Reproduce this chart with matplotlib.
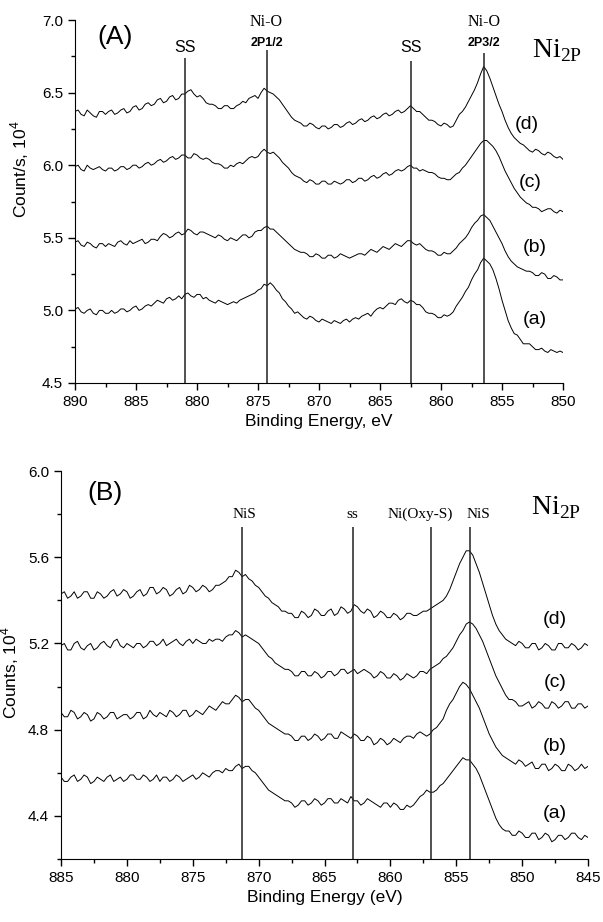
import numpy as np
import matplotlib
matplotlib.use('Agg')
from matplotlib import pyplot as plt
from matplotlib.ticker import MultipleLocator, FormatStrFormatter

plt.rcParams['font.family'] = ['Liberation Sans', 'DejaVu Sans']

# Ni 2p spectra, counts in units of 1e4, sampled every 0.25 eV
energy_A = np.arange(890.0, 849.99, -0.25)
energy_B = np.arange(885.0, 844.99, -0.25)

A_a = [5.01, 5.02, 4.99, 4.98, 5.00, 5.01, 4.98, 4.97, 5.00, 5.00,
       4.98, 4.98, 5.00, 4.98, 4.99, 5.01, 5.01, 4.99, 5.00, 5.02,
       5.03, 5.00, 5.01, 5.03, 5.04, 5.03, 5.05, 5.07, 5.06, 5.05,
       5.08, 5.09, 5.07, 5.08, 5.10, 5.08, 5.11, 5.12, 5.10, 5.09,
       5.11, 5.11, 5.08, 5.09, 5.07, 5.06, 5.05, 5.07, 5.06, 5.05,
       5.04, 5.05, 5.06, 5.05, 5.07, 5.08, 5.09, 5.10, 5.11, 5.12,
       5.14, 5.15, 5.18, 5.17, 5.19, 5.17, 5.14, 5.12, 5.08, 5.06,
       5.03, 5.01, 4.98, 4.99, 4.97, 4.95, 4.94, 4.96, 4.95, 4.93,
       4.92, 4.94, 4.93, 4.92, 4.91, 4.93, 4.92, 4.91, 4.93, 4.94,
       4.92, 4.94, 4.95, 4.94, 4.96, 4.97, 4.98, 4.96, 4.99, 5.01,
       5.02, 5.01, 5.03, 5.05, 5.05, 5.04, 5.07, 5.08, 5.06, 5.05,
       5.07, 5.06, 5.04, 5.04, 5.02, 4.99, 4.98, 4.98, 4.97, 4.95,
       4.95, 4.97, 4.96, 4.97, 4.99, 5.03, 5.06, 5.09, 5.13, 5.16,
       5.21, 5.25, 5.28, 5.33, 5.36, 5.34, 5.32, 5.28, 5.22, 5.15,
       5.07, 5.00, 4.93, 4.88, 4.84, 4.83, 4.80, 4.77, 4.77, 4.77,
       4.75, 4.73, 4.73, 4.74, 4.72, 4.71, 4.73, 4.72, 4.71, 4.72,
       4.71]
A_b = [5.47, 5.48, 5.45, 5.44, 5.47, 5.46, 5.44, 5.43, 5.46, 5.46,
       5.44, 5.46, 5.45, 5.44, 5.47, 5.48, 5.46, 5.45, 5.48, 5.46,
       5.47, 5.48, 5.49, 5.46, 5.47, 5.49, 5.49, 5.48, 5.51, 5.53,
       5.52, 5.50, 5.51, 5.53, 5.54, 5.52, 5.53, 5.56, 5.55, 5.53,
       5.52, 5.54, 5.54, 5.53, 5.52, 5.51, 5.50, 5.52, 5.51, 5.49,
       5.48, 5.50, 5.49, 5.48, 5.50, 5.52, 5.52, 5.50, 5.51, 5.54,
       5.55, 5.55, 5.57, 5.58, 5.56, 5.56, 5.54, 5.52, 5.50, 5.48,
       5.46, 5.44, 5.42, 5.41, 5.40, 5.40, 5.39, 5.37, 5.37, 5.39,
       5.38, 5.36, 5.36, 5.38, 5.38, 5.36, 5.37, 5.39, 5.38, 5.37,
       5.36, 5.37, 5.38, 5.39, 5.39, 5.38, 5.40, 5.42, 5.41, 5.40,
       5.42, 5.44, 5.43, 5.42, 5.44, 5.46, 5.45, 5.44, 5.46, 5.48,
       5.48, 5.46, 5.45, 5.46, 5.44, 5.42, 5.41, 5.41, 5.40, 5.38,
       5.38, 5.40, 5.39, 5.39, 5.41, 5.43, 5.46, 5.48, 5.50, 5.53,
       5.57, 5.60, 5.62, 5.65, 5.66, 5.64, 5.62, 5.58, 5.54, 5.50,
       5.46, 5.41, 5.37, 5.34, 5.32, 5.30, 5.29, 5.28, 5.27, 5.27,
       5.26, 5.24, 5.24, 5.26, 5.25, 5.22, 5.22, 5.24, 5.23, 5.21,
       5.21]
A_c = [5.99, 6.00, 5.97, 5.96, 6.00, 5.98, 5.97, 5.98, 5.99, 5.97,
       5.96, 5.98, 5.98, 5.96, 5.97, 5.99, 5.99, 5.97, 5.98, 6.00,
       6.00, 5.98, 5.99, 6.01, 6.02, 6.00, 6.01, 6.03, 6.04, 6.02,
       6.03, 6.05, 6.06, 6.04, 6.05, 6.07, 6.07, 6.05, 6.05, 6.08,
       6.07, 6.05, 6.04, 6.05, 6.04, 6.02, 6.01, 6.01, 6.00, 5.98,
       5.98, 6.00, 5.99, 6.01, 6.02, 6.01, 6.03, 6.05, 6.06, 6.05,
       6.06, 6.09, 6.11, 6.09, 6.08, 6.09, 6.07, 6.05, 6.02, 6.00,
       5.98, 5.95, 5.93, 5.92, 5.91, 5.89, 5.88, 5.90, 5.89, 5.87,
       5.87, 5.89, 5.89, 5.87, 5.87, 5.89, 5.88, 5.87, 5.88, 5.90,
       5.90, 5.88, 5.89, 5.91, 5.91, 5.89, 5.90, 5.92, 5.93, 5.91,
       5.92, 5.94, 5.95, 5.93, 5.94, 5.96, 5.97, 5.96, 5.97, 5.99,
       6.00, 5.98, 5.98, 5.96, 5.97, 5.96, 5.95, 5.95, 5.94, 5.92,
       5.91, 5.91, 5.90, 5.90, 5.92, 5.94, 5.95, 5.98, 6.00, 6.03,
       6.06, 6.09, 6.12, 6.15, 6.17, 6.17, 6.15, 6.13, 6.10, 6.06,
       6.01, 5.96, 5.92, 5.88, 5.84, 5.81, 5.78, 5.76, 5.74, 5.73,
       5.71, 5.71, 5.70, 5.68, 5.69, 5.70, 5.70, 5.68, 5.67, 5.69,
       5.68]
A_d = [6.37, 6.38, 6.35, 6.34, 6.38, 6.36, 6.34, 6.33, 6.37, 6.37,
       6.35, 6.37, 6.38, 6.35, 6.36, 6.38, 6.39, 6.36, 6.37, 6.40,
       6.41, 6.38, 6.39, 6.42, 6.43, 6.41, 6.42, 6.45, 6.46, 6.43,
       6.44, 6.47, 6.48, 6.45, 6.46, 6.49, 6.49, 6.51, 6.52, 6.49,
       6.47, 6.48, 6.46, 6.43, 6.42, 6.42, 6.41, 6.39, 6.39, 6.41,
       6.41, 6.39, 6.39, 6.41, 6.42, 6.44, 6.43, 6.46, 6.47, 6.48,
       6.46, 6.50, 6.53, 6.51, 6.50, 6.49, 6.47, 6.45, 6.42, 6.39,
       6.36, 6.33, 6.31, 6.30, 6.29, 6.27, 6.27, 6.29, 6.28, 6.26,
       6.25, 6.27, 6.27, 6.25, 6.26, 6.28, 6.28, 6.26, 6.27, 6.29,
       6.30, 6.28, 6.29, 6.31, 6.32, 6.30, 6.31, 6.33, 6.34, 6.32,
       6.33, 6.35, 6.36, 6.34, 6.35, 6.37, 6.38, 6.36, 6.37, 6.39,
       6.41, 6.39, 6.37, 6.37, 6.35, 6.33, 6.31, 6.31, 6.30, 6.28,
       6.27, 6.29, 6.28, 6.26, 6.27, 6.31, 6.35, 6.37, 6.40, 6.44,
       6.48, 6.52, 6.57, 6.63, 6.68, 6.65, 6.60, 6.54, 6.48, 6.42,
       6.37, 6.31, 6.26, 6.22, 6.19, 6.17, 6.15, 6.14, 6.12, 6.10,
       6.09, 6.11, 6.10, 6.08, 6.07, 6.09, 6.08, 6.06, 6.05, 6.06,
       6.04]

B_a = [4.58, 4.56, 4.56, 4.58, 4.59, 4.56, 4.57, 4.59, 4.58, 4.55,
       4.56, 4.58, 4.57, 4.56, 4.58, 4.59, 4.56, 4.57, 4.58, 4.56,
       4.57, 4.59, 4.59, 4.57, 4.57, 4.59, 4.58, 4.56, 4.57, 4.59,
       4.56, 4.58, 4.58, 4.56, 4.57, 4.59, 4.58, 4.56, 4.57, 4.58,
       4.59, 4.57, 4.58, 4.60, 4.59, 4.58, 4.60, 4.61, 4.61, 4.60,
       4.62, 4.61, 4.61, 4.63, 4.64, 4.62, 4.63, 4.63, 4.61, 4.60,
       4.58, 4.56, 4.54, 4.52, 4.51, 4.50, 4.49, 4.48, 4.47, 4.47,
       4.46, 4.44, 4.45, 4.47, 4.47, 4.45, 4.46, 4.48, 4.47, 4.45,
       4.46, 4.48, 4.48, 4.46, 4.46, 4.48, 4.47, 4.46, 4.49, 4.47,
       4.47, 4.45, 4.46, 4.48, 4.47, 4.46, 4.45, 4.44, 4.46, 4.46,
       4.44, 4.46, 4.45, 4.43, 4.43, 4.45, 4.44, 4.45, 4.47, 4.49,
       4.50, 4.52, 4.51, 4.51, 4.52, 4.54, 4.55, 4.57, 4.59, 4.61,
       4.63, 4.65, 4.67, 4.66, 4.66, 4.64, 4.62, 4.59, 4.55, 4.51,
       4.47, 4.43, 4.39, 4.36, 4.34, 4.33, 4.33, 4.31, 4.31, 4.33,
       4.32, 4.30, 4.30, 4.32, 4.32, 4.29, 4.30, 4.32, 4.31, 4.28,
       4.29, 4.31, 4.31, 4.29, 4.30, 4.32, 4.32, 4.30, 4.29, 4.31,
       4.30]
B_b = [4.88, 4.86, 4.86, 4.89, 4.88, 4.85, 4.86, 4.88, 4.87, 4.84,
       4.85, 4.88, 4.87, 4.85, 4.86, 4.88, 4.88, 4.85, 4.86, 4.87,
       4.87, 4.85, 4.86, 4.88, 4.88, 4.85, 4.86, 4.89, 4.87, 4.86,
       4.88, 4.87, 4.86, 4.89, 4.88, 4.86, 4.87, 4.89, 4.89, 4.86,
       4.87, 4.89, 4.88, 4.87, 4.89, 4.91, 4.90, 4.89, 4.91, 4.93,
       4.92, 4.92, 4.94, 4.96, 4.95, 4.93, 4.94, 4.94, 4.92, 4.90,
       4.89, 4.87, 4.85, 4.83, 4.82, 4.81, 4.80, 4.79, 4.78, 4.78,
       4.77, 4.75, 4.75, 4.77, 4.77, 4.75, 4.76, 4.78, 4.77, 4.75,
       4.76, 4.78, 4.78, 4.76, 4.76, 4.79, 4.78, 4.77, 4.76, 4.78,
       4.77, 4.75, 4.75, 4.77, 4.76, 4.73, 4.74, 4.76, 4.75, 4.73,
       4.74, 4.76, 4.75, 4.74, 4.76, 4.77, 4.77, 4.76, 4.78, 4.79,
       4.78, 4.77, 4.78, 4.80, 4.81, 4.83, 4.85, 4.89, 4.92, 4.94,
       4.97, 5.00, 5.02, 5.01, 4.99, 4.96, 4.93, 4.90, 4.86, 4.82,
       4.78, 4.75, 4.72, 4.70, 4.68, 4.67, 4.66, 4.65, 4.64, 4.66,
       4.65, 4.63, 4.64, 4.65, 4.62, 4.62, 4.64, 4.64, 4.61, 4.62,
       4.64, 4.63, 4.61, 4.61, 4.64, 4.63, 4.61, 4.62, 4.64, 4.62,
       4.63]
B_c = [5.19, 5.20, 5.17, 5.17, 5.20, 5.21, 5.18, 5.17, 5.19, 5.20,
       5.17, 5.18, 5.20, 5.21, 5.19, 5.18, 5.21, 5.22, 5.19, 5.18,
       5.20, 5.19, 5.18, 5.20, 5.20, 5.18, 5.19, 5.21, 5.21, 5.19,
       5.20, 5.22, 5.19, 5.20, 5.21, 5.22, 5.20, 5.19, 5.21, 5.22,
       5.20, 5.22, 5.21, 5.20, 5.20, 5.22, 5.21, 5.22, 5.22, 5.21,
       5.23, 5.24, 5.24, 5.26, 5.25, 5.23, 5.24, 5.23, 5.22, 5.21,
       5.20, 5.18, 5.16, 5.14, 5.13, 5.11, 5.10, 5.09, 5.08, 5.08,
       5.07, 5.05, 5.05, 5.07, 5.07, 5.05, 5.05, 5.07, 5.06, 5.04,
       5.05, 5.07, 5.07, 5.05, 5.06, 5.08, 5.08, 5.06, 5.07, 5.08,
       5.06, 5.07, 5.08, 5.07, 5.06, 5.04, 5.05, 5.07, 5.06, 5.04,
       5.04, 5.06, 5.05, 5.03, 5.04, 5.06, 5.05, 5.04, 5.05, 5.07,
       5.07, 5.06, 5.08, 5.09, 5.10, 5.11, 5.13, 5.14, 5.16, 5.18,
       5.21, 5.24, 5.26, 5.29, 5.30, 5.29, 5.27, 5.24, 5.21, 5.17,
       5.13, 5.09, 5.05, 5.02, 4.99, 4.96, 4.94, 4.94, 4.93, 4.91,
       4.91, 4.92, 4.93, 4.90, 4.91, 4.93, 4.92, 4.90, 4.90, 4.93,
       4.92, 4.90, 4.91, 4.93, 4.93, 4.90, 4.90, 4.92, 4.92, 4.90,
       4.91]
B_d = [5.43, 5.44, 5.41, 5.42, 5.44, 5.41, 5.42, 5.44, 5.44, 5.41,
       5.41, 5.44, 5.43, 5.41, 5.42, 5.44, 5.45, 5.42, 5.43, 5.45,
       5.44, 5.41, 5.42, 5.44, 5.45, 5.42, 5.43, 5.46, 5.46, 5.43,
       5.44, 5.46, 5.45, 5.42, 5.43, 5.45, 5.46, 5.43, 5.44, 5.47,
       5.46, 5.44, 5.45, 5.47, 5.46, 5.44, 5.45, 5.47, 5.47, 5.48,
       5.49, 5.51, 5.51, 5.54, 5.53, 5.51, 5.52, 5.50, 5.49, 5.47,
       5.46, 5.44, 5.42, 5.41, 5.39, 5.38, 5.37, 5.35, 5.35, 5.34,
       5.34, 5.32, 5.32, 5.35, 5.34, 5.32, 5.33, 5.36, 5.35, 5.33,
       5.33, 5.35, 5.36, 5.33, 5.34, 5.37, 5.36, 5.34, 5.35, 5.38,
       5.37, 5.35, 5.34, 5.36, 5.35, 5.32, 5.33, 5.35, 5.34, 5.32,
       5.32, 5.34, 5.33, 5.31, 5.32, 5.34, 5.34, 5.33, 5.33, 5.34,
       5.35, 5.35, 5.36, 5.37, 5.38, 5.39, 5.40, 5.42, 5.45, 5.49,
       5.53, 5.57, 5.60, 5.63, 5.63, 5.61, 5.57, 5.53, 5.48, 5.43,
       5.38, 5.33, 5.29, 5.26, 5.24, 5.22, 5.21, 5.20, 5.19, 5.21,
       5.20, 5.18, 5.18, 5.20, 5.20, 5.17, 5.18, 5.20, 5.19, 5.17,
       5.17, 5.20, 5.20, 5.18, 5.18, 5.20, 5.19, 5.17, 5.18, 5.20,
       5.19]

# peak assignment lines: (position eV, top of line)
peaks_A = [(881.0, 6.74), (874.3, 6.79), (862.5, 6.72), (856.5, 6.77)]
peaks_B = [(871.3, 5.74), (862.86, 5.74), (856.94, 5.74), (853.93, 5.74)]

serif = ['Liberation Serif', 'DejaVu Serif']


def style_axes(ax):
    for side in ['top', 'right']:
        ax.spines[side].set_visible(False)
    ax.tick_params(which='major', direction='out', length=5, width=1, labelsize=11)
    ax.tick_params(which='minor', direction='out', length=3, width=1)
    ax.xaxis.set_major_locator(MultipleLocator(5))
    ax.xaxis.set_minor_locator(MultipleLocator(2.5))
    ax.xaxis.set_major_formatter(FormatStrFormatter('%d'))


fig = plt.figure(figsize=(6.03, 9.22), dpi=100)

# ---- (A) ----
ax1 = fig.add_axes([0.1244, 0.5846, 0.8093, 0.3937])
for y in [A_a, A_b, A_c, A_d]:
    ax1.plot(energy_A, y, color='black', lw=0.7)
for x, top in peaks_A:
    ax1.vlines(x, 4.5, top, color='#222222', lw=1.1)
ax1.set_xlim(890, 850)
ax1.set_ylim(4.5, 7.0)
style_axes(ax1)
ax1.yaxis.set_major_locator(MultipleLocator(0.5))
ax1.yaxis.set_minor_locator(MultipleLocator(0.25))
ax1.yaxis.set_major_formatter(FormatStrFormatter('%.1f'))
ax1.set_xlabel('Binding Energy, eV', fontsize=12.5)
ax1.set_ylabel('Count/s, 10$^{\\mathregular{4}}$', fontsize=12.5)
ax1.yaxis.set_label_coords(-0.09, 0.59)

ax1.text(881.0, 6.81, 'SS', ha='center', va='center', fontsize=11.5)
ax1.text(862.5, 6.81, 'SS', ha='center', va='center', fontsize=11.5)
for x, sub in [(874.3, '2P1/2'), (856.5, '2P3/2')]:
    ax1.text(x, 6.985, 'Ni-O', ha='center', va='center', fontsize=11.5, family=serif)
    ax1.text(x, 6.845, sub, ha='center', va='center', fontsize=9, fontweight='bold')
ax1.text(886.7, 6.88, '(A)', ha='center', va='center', fontsize=19)
ax1.text(850.5, 6.79, 'Ni$_{\\mathregular{2P}}$', ha='center', va='center',
         fontsize=20, family=serif, clip_on=False)
for lab, x, y in [('(d)', 852.95, 6.28), ('(c)', 852.7, 5.88),
                  ('(b)', 852.3, 5.43), ('(a)', 852.3, 4.94)]:
    ax1.text(x, y, lab, ha='center', va='center', fontsize=14)

# ---- (B) ----
ax2 = fig.add_axes([0.1012, 0.0683, 0.874, 0.4208])
for y in [B_a, B_b, B_c, B_d]:
    ax2.plot(energy_B, y, color='black', lw=0.7)
for x, top in peaks_B:
    ax2.vlines(x, 4.2, top, color='#222222', lw=1.1)
ax2.set_xlim(885, 845)
ax2.set_ylim(4.2, 6.0)
style_axes(ax2)
ax2.set_yticks([4.4, 4.8, 5.2, 5.6, 6.0])
ax2.yaxis.set_minor_locator(MultipleLocator(0.2))
ax2.yaxis.set_major_formatter(FormatStrFormatter('%.1f'))
ax2.set_xlabel('Binding Energy (eV)', fontsize=12.5)
ax2.set_ylabel('Counts, 10$^{\\mathregular{4}}$', fontsize=12.5)
ax2.yaxis.set_label_coords(-0.076, 0.48)

for lab, x in [('NiS', 871.06), ('ss', 862.86), ('Ni(Oxy-S)', 857.75), ('NiS', 853.3)]:
    ax2.text(x, 5.80, lab, ha='center', va='center', fontsize=11, family=serif)
ax2.text(881.7, 5.90, '(B)', ha='center', va='center', fontsize=19)
ax2.text(847.4, 5.83, 'Ni$_{\\mathregular{2P}}$', ha='center', va='center',
         fontsize=20, family=serif, clip_on=False)
for lab, y in [('(d)', 5.31), ('(c)', 5.02), ('(b)', 4.72), ('(a)', 4.41)]:
    ax2.text(847.5, y, lab, ha='center', va='center', fontsize=14)

fig.savefig('out.png', dpi=100)
